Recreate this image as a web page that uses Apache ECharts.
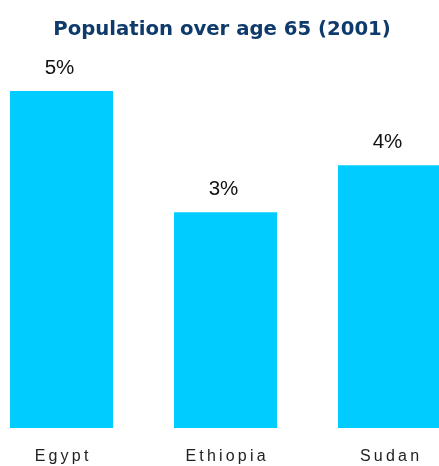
<!DOCTYPE html>
<html>
<head>
<meta charset="utf-8">
<script src="https://cdn.jsdelivr.net/npm/echarts@6/dist/echarts.min.js"></script>
<style>
  html, body { margin: 0; padding: 0; background: #fff; }
  #main { width: 439px; height: 466px; }
</style>
</head>
<body>
<div id="main"></div>
<script>
// data
var countries = ['Egypt', 'Ethiopia', 'Sudan']
var share65 = [5.0, 3.2, 3.9]   // % of population over 65, 2001

var chart = echarts.init(document.getElementById('main'))

// spread letters out a bit, the original axis text is letter-spaced
function spaced(s){
    return s.split('').map(function(ch){ return '{c|' + ch + '}' }).join('')
}

var option = {
    title: {
        text: 'Population over age 65 (2001)',
        left: 217,
        textAlign: 'center',
        top: 15,
        textStyle: {
            fontFamily: 'DejaVu Sans',
            fontWeight: 'bold',
            fontSize: 19.7,
            color: '#0f3b6c'
        }
    },
    grid: {
        left: -20.5,
        width: 492,
        top: 91,
        bottom: 38,
        containLabel: false,
        outerBoundsMode: 'none'
    },
    xAxis: {
        type: 'category',
        data: countries,
        axisLine: { show: false },
        axisTick: { show: false },
        axisLabel: {
            margin: 21,
            interval: 0,
            hideOverlap: false,
            formatter: spaced,
            rich: {
                c: {
                    fontFamily: 'Liberation Sans',
                    fontSize: 16,
                    color: '#222',
                    padding: [0, 1.6]
                }
            }
        }
    },
    yAxis: {
        type: 'value',
        min: 0,
        max: 5,
        show: false,
        splitLine: { show: false }
    },
    series: [{
        type: 'bar',
        data: share65,
        barWidth: 103,
        itemStyle: { color: '#00ccff' },
        label: {
            show: true,
            position: 'top',
            distance: 12,
            offset: [-2, 0],
            fontFamily: 'Liberation Sans',
            fontSize: 20.5,
            color: '#111',
            formatter: function (p) { return Math.round(p.value) + '%' }
        }
    }]
}

chart.setOption(option)
</script>
</body>
</html>
